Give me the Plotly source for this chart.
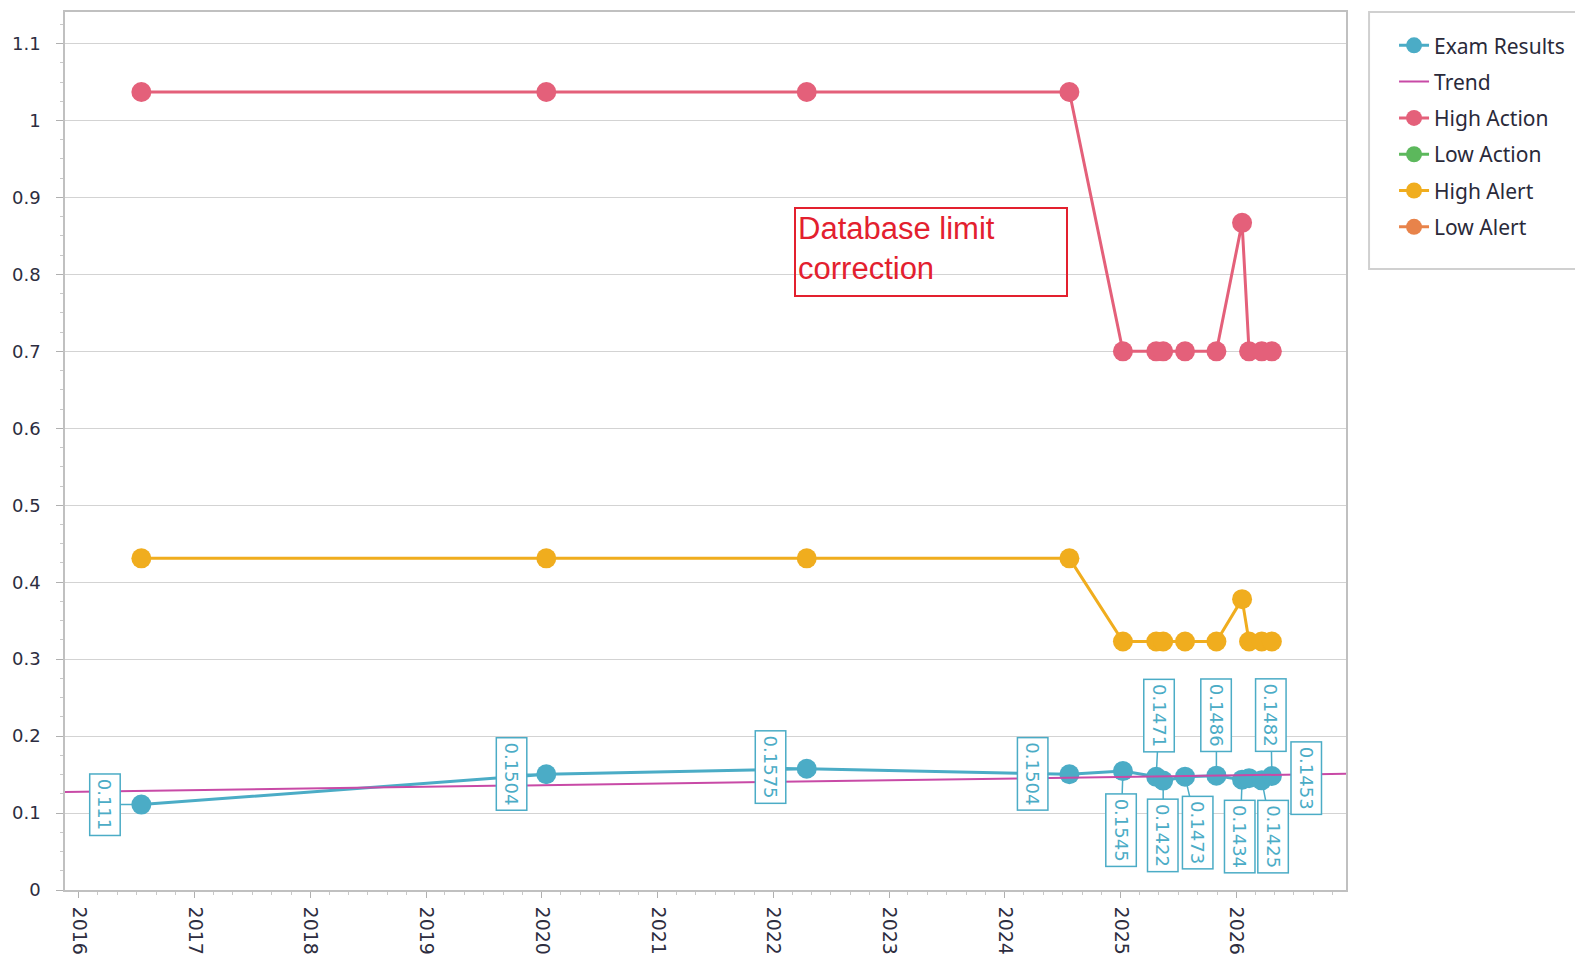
"""Exam results vs. action/alert limits, with a linear trend."""

import plotly.graph_objects as go

# ---- data -------------------------------------------------------------
exam_dates = [
    "2016-07-16", "2020-01-15", "2022-04-16", "2024-07-23", "2025-01-08",
    "2025-04-23", "2025-05-15", "2025-07-23", "2025-10-30", "2026-01-19",
    "2026-02-10", "2026-03-22", "2026-04-23",
]
exam_values = [
    0.111, 0.1504, 0.1575, 0.1504, 0.1545, 0.1471, 0.1422,
    0.1473, 0.1486, 0.1434, 0.1453, 0.1425, 0.1482,
]
high_action = [1.037, 1.037, 1.037, 1.037, 0.70, 0.70, 0.70, 0.70, 0.70, 0.867, 0.70, 0.70, 0.70]
high_alert = [0.431, 0.431, 0.431, 0.431, 0.323, 0.323, 0.323, 0.323, 0.323, 0.378, 0.323, 0.323, 0.323]

trend_dates = ["2015-11-18", "2026-12-13"]
trend_values = [0.1275, 0.151]

y_ticks = [0, 0.1, 0.2, 0.3, 0.4, 0.5, 0.6, 0.7, 0.8, 0.9, 1, 1.1]
y_tick_text = ["0", "0.1", "0.2", "0.3", "0.4", "0.5", "0.6", "0.7", "0.8", "0.9", "1", "1.1"]

# label box offsets (pixels) from each point, in exam order
label_offsets = [
    (-36, 0), (-35, 0), (-36, -2), (-37, 0), (-2, 59), (3, -61), (0, 55),
    (13, 56), (0, -60), (-2, 57), None, (11, 56), (-1, -61),
]

TEAL = "#4bacc6"
RED = "#e3202e"
fig = go.Figure()

fig.add_trace(go.Scatter(
    x=exam_dates, y=exam_values, name="Exam Results", mode="lines+markers",
    line=dict(color=TEAL, width=3), marker=dict(size=20, color=TEAL),
    legendgroup="a",
))
fig.add_trace(go.Scatter(
    x=trend_dates, y=trend_values, name="Trend", mode="lines",
    line=dict(color="#c84aa6", width=2), legendgroup="b",
))
fig.add_trace(go.Scatter(
    x=exam_dates, y=high_action, name="High Action", mode="lines+markers",
    line=dict(color="#e4607a", width=3), marker=dict(size=20, color="#e4607a"),
    legendgroup="c",
))
fig.add_trace(go.Scatter(
    x=[None], y=[None], name="Low Action", mode="lines+markers",
    line=dict(color="#5cb85c", width=3), marker=dict(size=20, color="#5cb85c"),
    showlegend=True, legendgroup="d",
))
fig.add_trace(go.Scatter(
    x=exam_dates, y=high_alert, name="High Alert", mode="lines+markers",
    line=dict(color="#f0ad1e", width=3), marker=dict(size=20, color="#f0ad1e"),
    legendgroup="e",
))
fig.add_trace(go.Scatter(
    x=[None], y=[None], name="Low Alert", mode="lines+markers",
    line=dict(color="#e8834a", width=3), marker=dict(size=20, color="#e8834a"),
    showlegend=True, legendgroup="f",
))

# value labels
for d, v, off in zip(exam_dates, exam_values, label_offsets):
    common = dict(
        x=d, y=v, text=f"{v:g}", textangle=90,
        font=dict(family="DejaVu Sans", size=18, color=TEAL),
        bgcolor="white", bordercolor=TEAL, borderwidth=1.5, borderpad=4,
    )
    if off is None:
        fig.add_annotation(**common, showarrow=False, xshift=57)
    else:
        fig.add_annotation(
            **common, showarrow=True, ax=off[0], ay=off[1], arrowhead=0,
            arrowwidth=1.5, arrowcolor=TEAL, standoff=9,
        )

fig.add_annotation(
    x="2022-03-07", y=0.887, xanchor="left", yanchor="top",
    text="Database limit<br>correction", showarrow=False, align="left", valign="top",
    width=266, height=82, bordercolor=RED, borderwidth=2, borderpad=2,
    font=dict(family="Liberation Sans", size=31, color=RED),
)

# legend frame (taller and wider than plotly's own legend box)
fig.add_shape(
    type="rect", xref="paper", yref="paper", x0=1.018, x1=1.3, y0=0.7074, y1=1.0,
    line=dict(color="#d0d0d0", width=2), fillcolor="rgba(0,0,0,0)",
)

fig.update_layout(
    width=1575, height=954,
    margin=dict(l=57, r=237, t=2, b=72),
    plot_bgcolor="white", paper_bgcolor="white",
    showlegend=True,
    legend=dict(
        x=1.0375, y=0.985, xanchor="left", yanchor="top",
        borderwidth=0, bgcolor="rgba(0,0,0,0)",
        font=dict(family="Noto Sans", size=21, color="#2a2a3a"),
        tracegroupgap=6, itemwidth=30,
    ),
)
fig.update_xaxes(
    type="date", range=["2015-11-18", "2026-12-13"],
    dtick="M12", tick0="2016-01-01", tickformat="%Y", tickangle=90,
    ticks="outside", ticklen=6, tickcolor="#b0b0b0", ticklabelstandoff=5,
    minor=dict(dtick="M2", ticks="outside", ticklen=3, tickcolor="#c8c8c8"),
    showgrid=False, showline=True, linecolor="#c0c0c0", linewidth=1.5, mirror=True,
    tickfont=dict(family="DejaVu Sans", size=19, color="#2d2d40"),
    zeroline=False,
)
fig.update_yaxes(
    range=[0, 1.141], tickvals=y_ticks, ticktext=y_tick_text,
    ticks="outside", ticklen=7, tickcolor="#b0b0b0", ticklabelstandoff=12,
    minor=dict(dtick=0.025, ticks="outside", ticklen=3, tickcolor="#c8c8c8", showgrid=False),
    showgrid=True, gridcolor="#d3d3d3", gridwidth=1.2,
    showline=True, linecolor="#c0c0c0", linewidth=1.5, mirror=True,
    tickfont=dict(family="DejaVu Sans", size=18, color="#2d2d40"),
    zeroline=False,
)

fig.write_html("out.html")
